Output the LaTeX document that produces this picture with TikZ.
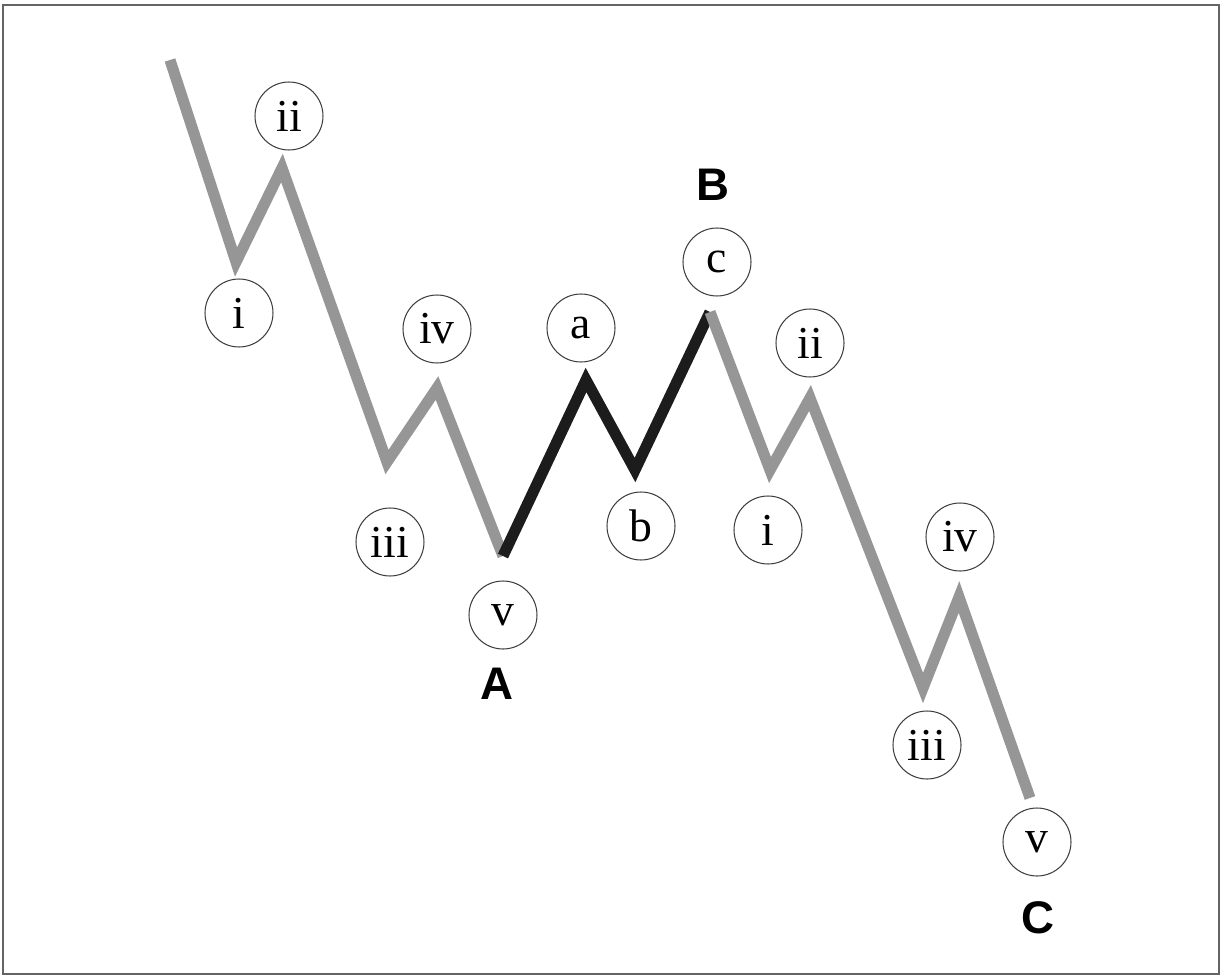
\documentclass[tikz,border=0pt]{standalone}
\usepackage{fontspec}
\setmainfont{Liberation Serif}
\newfontfamily\letterfont{Liberation Sans}
\usetikzlibrary{positioning}

\definecolor{wavegray}{RGB}{150,150,150}
\definecolor{waveblack}{RGB}{28,28,28}
\definecolor{framegray}{RGB}{100,100,100}

\tikzset{
  wavenum/.style={circle, draw=black!75, line width=0.6pt, minimum size=1.36cm,
    inner sep=0pt, font=\fontsize{26}{26}\selectfont},
  waveletter/.style={font=\letterfont\bfseries\fontsize{26}{26}\selectfont},
  impulse/.style={draw=wavegray, line width=6.3pt, miter limit=20},
  corrective/.style={draw=waveblack, line width=6.3pt, miter limit=20}
}

\begin{document}
\begin{tikzpicture}[x=0.02cm, y=-0.02cm]
    \useasboundingbox (0,0) rectangle (1225,977);
    \draw[framegray, line width=1.6pt] (3,5) rectangle (1219,974);

    % turning points of the wave
    \coordinate (p0)  at (170,60);
    \coordinate (p1)  at (236,262);
    \coordinate (p2)  at (282,168);
    \coordinate (p3)  at (387,462);
    \coordinate (p4)  at (437,388);
    \coordinate (p5)  at (503,556);
    \coordinate (p6)  at (586,380);
    \coordinate (p7)  at (635,470);
    \coordinate (p8)  at (710,312);
    \coordinate (p9)  at (770,470);
    \coordinate (p10) at (810,398);
    \coordinate (p11) at (923,688);
    \coordinate (p12) at (959,597);
    \coordinate (p13) at (1030,798);

    \draw[impulse] (p0) -- (p1) -- (p2) -- (p3) -- (p4) -- (p5);
    \draw[corrective] (p5) -- (p6) -- (p7) -- (p8);
    \draw[impulse] (p8) -- (p9) -- (p10) -- (p11) -- (p12) -- (p13);

    % circled counts
    \node[wavenum] (ai)   at (239,313) {i};
    \node[wavenum] (aii)  at (289,116) {ii};
    \node[wavenum] (aiii) at (390,542) {iii};
    \node[wavenum] (aiv)  at (437,329) {iv};
    \node[wavenum] (av)   at (503,615) {v};
    \node[wavenum] (ba)   at (581,328) {a};
    \node[wavenum] (bb)   at (641,526) {b};
    \node[wavenum] (bc)   at (717,262) {c};
    \node[wavenum] (ci)   at (768,530) {i};
    \node[wavenum] (cii)  at (810,343) {ii};
    \node[wavenum] (ciii) at (927,745) {iii};
    \node[wavenum] (civ)  at (960,537) {iv};
    \node[wavenum] (cv)   at (1037,842) {v};

    \node[waveletter] (labA) at (497,684) {A};
    \node[waveletter] (labB) at (713,185) {B};
    \node[waveletter] (labC) at (1038,918) {C};
\end{tikzpicture}
\end{document}
